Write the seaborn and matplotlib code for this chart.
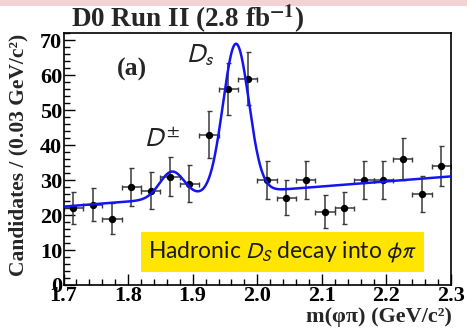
import matplotlib
matplotlib.use("Agg")
import numpy as np
import pandas as pd
import seaborn as sns
import matplotlib.pyplot as plt
from matplotlib.ticker import MultipleLocator
from matplotlib.patches import Rectangle

# ---- data ----
mass = [1.715, 1.745, 1.775, 1.805, 1.835, 1.865, 1.895, 1.925, 1.955, 1.985,
        2.015, 2.045, 2.075, 2.105, 2.135, 2.165, 2.195, 2.225, 2.255, 2.285]
counts = [22, 23, 19, 28, 27, 31, 29, 43, 56, 59,
          30, 25, 30, 21, 22, 30, 30, 36, 26, 34]
count_err = [4.7, 4.8, 4.4, 5.3, 5.2, 5.6, 5.4, 6.6, 7.5, 7.7,
             5.5, 5.0, 5.5, 4.6, 4.7, 5.5, 5.5, 6.0, 5.1, 5.8]
bin_half = [0.015] * len(mass)

# fit-curve parameters (read from the drawn fit)
bg_const, bg_slope = 22.4, 14.4
dpm_mean, dpm_amp, dpm_sigma = 1.868, 7.6, 0.019
ds_mean, ds_amp, ds_sigma = 1.967, 42.7, 0.020

xtick_vals = [1.7, 1.8, 1.9, 2.0, 2.1, 2.2, 2.3]
xtick_labels = ["1.7", "1.8", "1.9", "2.0", "2.1", "2.2", "2.3"]
ytick_vals = [0, 10, 20, 30, 40, 50, 60, 70]

df = pd.DataFrame({"mass": mass, "counts": counts, "err": count_err, "xerr": bin_half})
xf = np.linspace(1.7, 2.3, 800)
fit = (bg_const + bg_slope * (xf - 1.7)
       + dpm_amp * np.exp(-0.5 * ((xf - dpm_mean) / dpm_sigma) ** 2)
       + ds_amp * np.exp(-0.5 * ((xf - ds_mean) / ds_sigma) ** 2))
fit_df = pd.DataFrame({"mass": xf, "fit": fit})

sns.set_style("ticks")
W, H = 467, 328
fig = plt.figure(figsize=(W / 100, H / 100), dpi=100)
fig.patch.set_facecolor("white")
fig.add_artist(Rectangle((0, 1 - 6 / H), 1, 6 / H, transform=fig.transFigure,
                         facecolor="#f2d2d2", edgecolor="none"))

L, R, T, B = 63.5, 451, 32.7, 285
ax = fig.add_axes([L / W, 1 - B / H, (R - L) / W, (B - T) / H])

ax.errorbar(df["mass"], df["counts"], yerr=df["err"], xerr=df["xerr"], fmt="none",
            ecolor="#3a3a3a", elinewidth=1.1, capsize=1.8, capthick=1.0, zorder=2)
sns.scatterplot(data=df, x="mass", y="counts", ax=ax, color="black", s=28,
                edgecolor="black", linewidth=0, zorder=3)
sns.lineplot(data=fit_df, x="mass", y="fit", ax=ax, color="#1414f0", linewidth=1.8,
             zorder=4)

ax.set_xlim(1.7, 2.3)
ax.set_ylim(0, 72.1)
ax.set_xlabel("")
ax.set_ylabel("")
ax.set_xticks(xtick_vals)
ax.set_xticklabels(xtick_labels)
ax.set_yticks(ytick_vals)
ax.xaxis.set_minor_locator(MultipleLocator(0.02))
ax.yaxis.set_minor_locator(MultipleLocator(2))
ax.tick_params(which="major", direction="in", length=8, width=1.0, color="black",
               top=False, right=False, pad=3)
ax.tick_params(which="minor", direction="in", length=4, width=1.0, color="black",
               top=False, right=False)
for sp in ax.spines.values():
    sp.set_linewidth(1.2)
    sp.set_color("black")
    sp.set_visible(True)

serif = ["Liberation Serif", "DejaVu Serif"]
for lab in ax.get_xticklabels() + ax.get_yticklabels():
    lab.set_fontfamily(serif)
    lab.set_fontweight("bold")
    lab.set_fontsize(16)
    lab.set_color("black")
ax.tick_params(axis="y", pad=1)
ax.tick_params(axis="x", pad=1)

# title
fig.text(188 / W, 1 - 27 / H, r"D0 Run II (2.8 fb$^{\mathbf{-1}}$)", ha="center",
         va="baseline", fontfamily=serif, fontweight="bold", fontsize=19.5,
         math_fontfamily="stix")
# axis labels
fig.text(18 / W, 1 - 34 / H, "Candidates / (0.03 GeV/c²)", rotation=90, ha="center",
         va="top", fontfamily=serif, fontweight="bold", fontsize=15.5)
fig.text(452 / W, 1 - 322 / H, "m(φπ) (GeV/c²)", ha="right", va="baseline",
         fontfamily=serif, fontweight="bold", fontsize=16)

# panel label and peak labels
ax.text(0.177, 0.855, "(a)", transform=ax.transAxes, fontfamily=serif,
        fontweight="bold", fontsize=18.5, ha="center", va="center")
ax.text(1.89, 63.5, r"$D_s$", fontsize=19, color="#222222", ha="left",
        va="baseline", math_fontfamily="stixsans")
ax.text(1.824, 39.5, r"$D^{\pm}$", fontsize=19, color="#222222", ha="left",
        va="baseline", math_fontfamily="stixsans")

# yellow annotation box
ax.text(0.565, 0.131, r"Hadronic $D_S$ decay into $\phi\pi$", transform=ax.transAxes,
        ha="center", va="center", fontsize=16.5, fontfamily=["Lato", "DejaVu Sans"],
        math_fontfamily="stixsans", color="#1a1a1a",
        bbox=dict(boxstyle="square,pad=0.3", facecolor="#ffe500", edgecolor="none"))

fig.savefig("out.png", dpi=100, facecolor="white")
